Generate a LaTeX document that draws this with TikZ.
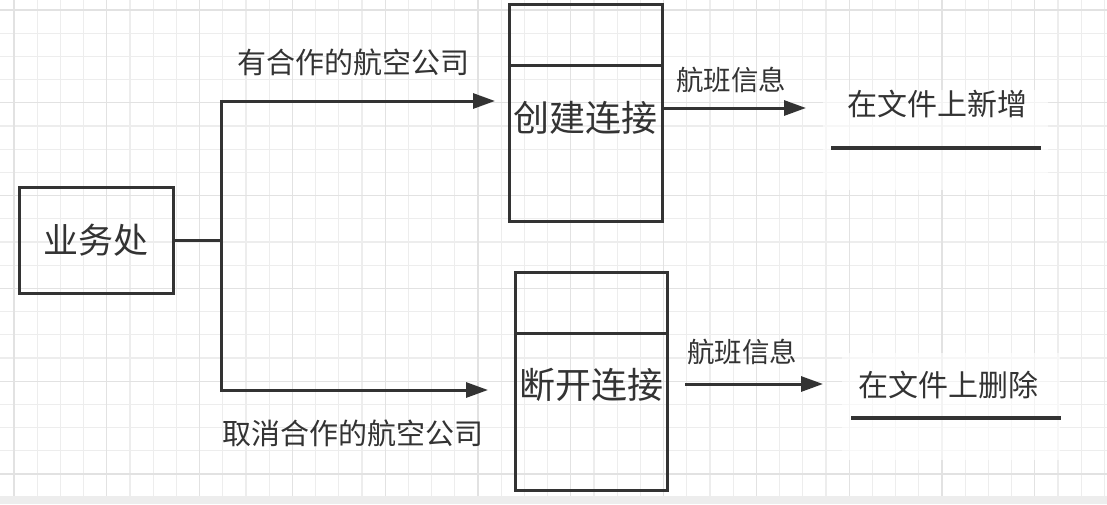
\documentclass[tikz,border=0pt]{standalone}
\usepackage{fontspec}
\newfontfamily\cjk{Noto Sans CJK SC}
\usetikzlibrary{arrows.meta,positioning}

\definecolor{ink}{HTML}{333333}
\definecolor{gridminor}{HTML}{EDEDED}
\definecolor{gridmajor}{HTML}{E2E2E2}

\tikzset{
  box/.style={draw=ink, line width=3pt, inner sep=0pt},
  boxtext/.style={text=ink, inner sep=0pt, font=\cjk\fontsize{36}{40}\selectfont},
  edgelabel/.style={text=ink, inner sep=0pt, font=\cjk\fontsize{29}{32}\selectfont},
  infolabel/.style={text=ink, inner sep=0pt, font=\cjk\fontsize{27.5}{30}\selectfont},
  filetext/.style={text=ink, inner sep=0pt, font=\cjk\fontsize{30}{34}\selectfont},
  flow/.style={draw=ink, line width=3pt},
  arrow/.style={flow, -{Triangle[length=22pt,width=15pt]}},
  underl/.style={draw=ink, line width=3.5pt}
}

\begin{document}
\begin{tikzpicture}[x=1pt, y=-1pt]
\useasboundingbox (0,0) rectangle (1107,504);

% background grid
\fill[white] (0,0) rectangle (1107,504);
\foreach \i in {0,...,47}
  \draw[gridminor, line width=1.2pt] ({14+23.2*\i},0) -- ({14+23.2*\i},496);
\foreach \j in {0,...,21}
  \draw[gridminor, line width=1.2pt] (0,{10+23.2*\j}) -- (1107,{10+23.2*\j});
\foreach \i in {0,4,...,47}
  \draw[gridmajor, line width=1.2pt] ({14+23.2*\i},0) -- ({14+23.2*\i},496);
\foreach \j in {0,4,...,21}
  \draw[gridmajor, line width=1.2pt] (0,{10+23.2*\j}) -- (1107,{10+23.2*\j});
\fill[gridminor] (0,496) rectangle (1107,504);

% light panels behind the file texts
\fill[white, opacity=0.6] (823,90) rectangle (1048,190);
\fill[white, opacity=0.6] (842,353) rectangle (1060,460);

% department
\node[box, minimum width=154pt, minimum height=106pt] (dept) at (96,240) {};
\node[boxtext, font=\cjk\fontsize{35}{40}\selectfont] (depttxt) at (96,240) {业务处};

% processes
\node[box, minimum width=153pt, minimum height=217pt] (create) at (585.5,112.5) {};
\coordinate (createsep) at (509,65);
\draw[flow] (createsep) -- ++(153,0);
\node[boxtext] (createtxt) at (585,118) {创建连接};

\node[box, minimum width=152pt, minimum height=218pt] (cut) at (591,381) {};
\coordinate (cutsep) at (515,333);
\draw[flow] (cutsep) -- ++(152,0);
\node[boxtext] (cuttxt) at (591,385) {断开连接};

% branches
\coordinate (fork) at (221,240);
\coordinate (uptip) at (495,101);
\coordinate (downtip) at (488,390);
\draw[flow] (dept.east) -- (fork);
\draw[arrow] (fork) |- (uptip);
\draw[arrow] (fork) |- (downtip);
\node[edgelabel] (uplabel) at (353,62) {有合作的航空公司};
\node[edgelabel] (downlabel) at (353,433) {取消合作的航空公司};

% flight info
\coordinate (addtip) at (806,108);
\coordinate (delstart) at (685,384);
\coordinate (deltip) at (823,384);
\draw[arrow] (create.east |- addtip) -- (addtip);
\draw[arrow] (delstart) -- (deltip);
\node[infolabel] (addinfo) at (731,80) {航班信息};
\node[infolabel] (delinfo) at (742,352) {航班信息};

% files
\node[filetext] (addfile) at (937,104) {在文件上新增};
\draw[underl] (831,148) -- (1041,148);
\node[filetext] (delfile) at (948,385) {在文件上删除};
\draw[underl] (851,418) -- (1061,418);

\end{tikzpicture}
\end{document}
